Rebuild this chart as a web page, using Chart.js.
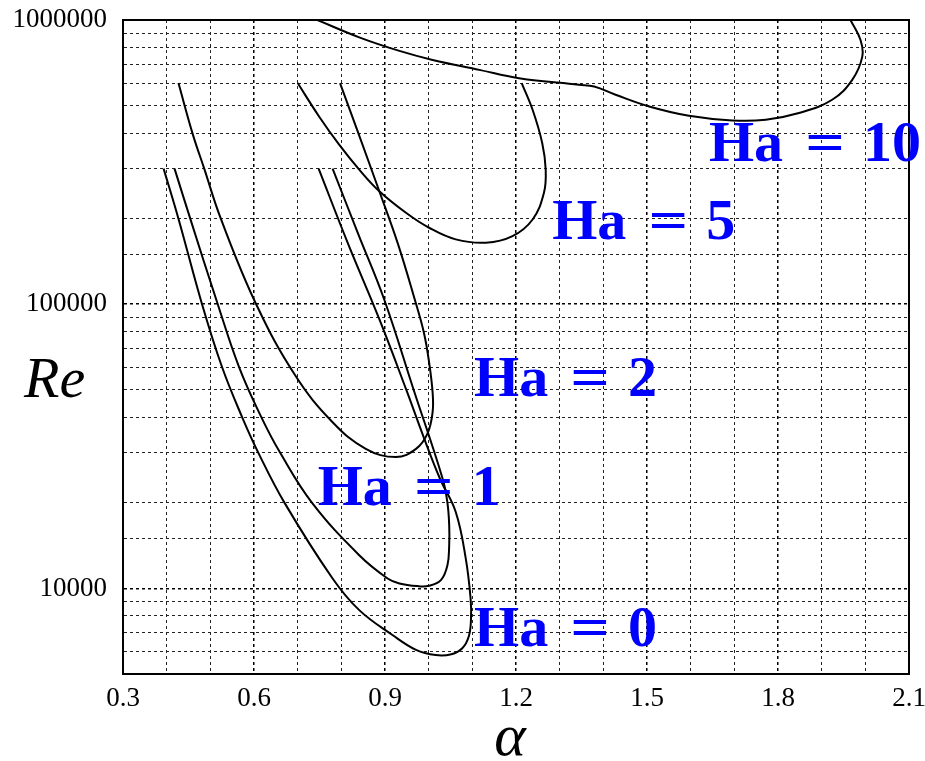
<!DOCTYPE html>
<html>
<head>
<meta charset="utf-8">
<script src="https://cdn.jsdelivr.net/npm/chart.js@4.4.0/dist/chart.umd.min.js"></script>
<style>
  html, body { margin: 0; padding: 0; background: #fff; }
  #wrap { width: 925px; height: 761px; }
</style>
</head>
<body>
<div id="wrap"><canvas id="neutralChart"></canvas></div>
<script>
// ===============================
// NEUTRAL CURVES  (alpha, Re) per Hartmann number
// ===============================
const ha0Alpha = [0.393, 0.427, 0.481, 0.527, 0.573, 0.610, 0.670, 0.780, 0.841, 0.917, 0.971, 1.016, 1.052, 1.077, 1.092, 1.097, 1.096, 1.085, 1.062, 1.026, 0.990, 0.948, 0.887, 0.816, 0.748];
const ha0Re    = [300000, 200000, 100000, 60000, 40000, 30000, 20000, 10840, 8390, 6860, 6080, 5830, 5870, 6160, 6790, 7850, 9230, 12740, 18580, 24320, 33600, 50330, 88590, 162400, 300000];

const ha1Alpha = [0.418, 0.454, 0.517, 0.566, 0.617, 0.660, 0.733, 0.841, 0.906, 0.933, 0.974, 1.001, 1.028, 1.043, 1.047, 1.047, 1.043, 1.032, 0.965, 0.898, 0.839, 0.780];
const ha1Re    = [300000, 200000, 100000, 60000, 40000, 30000, 20000, 13090, 10840, 10410, 10190, 10220, 10690, 12070, 14190, 16680, 20000, 24320, 50330, 104100, 176100, 300000];

const ha2Alpha = [0.427, 0.459, 0.486, 0.524, 0.605, 0.695, 0.780, 0.856, 0.925, 0.971, 0.997, 1.009, 1.009, 1.001, 0.989, 0.968, 0.930, 0.887, 0.841, 0.797];
const ha2Re    = [600000, 400000, 300000, 200000, 100000, 56000, 38450, 30990, 28990, 30990, 34990, 41690, 49000, 62430, 79560, 104100, 162400, 249700, 391700, 600000];

const ha5Alpha = [0.700, 0.749, 0.795, 0.841, 0.887, 0.948, 1.001, 1.062, 1.131, 1.192, 1.238, 1.264, 1.268, 1.260, 1.238, 1.213];
const ha5Re    = [600000, 457800, 364300, 297700, 249700, 209800, 185800, 169100, 164600, 173600, 198700, 246500, 297700, 369400, 483300, 600000];

const ha10Alpha = [0.745, 0.841, 0.933, 1.009, 1.116, 1.207, 1.344, 1.379, 1.428, 1.505, 1.596, 1.695, 1.772, 1.848, 1.924, 1.970, 1.993, 1.989, 1.966];
const ha10Re    = [1000000, 869000, 778500, 723700, 667700, 624300, 591500, 583400, 545700, 496400, 460400, 443300, 445800, 470500, 524000, 615900, 743200, 850800, 1000000];

const xTickLabels = ['0.3', '0.6', '0.9', '1.2', '1.5', '1.8', '2.1'];
const yTickLabels = ['10000', '100000', '1000000'];

// curve tags : text + anchor (alpha, Re) of the left end of "Ha"
const haLabelText  = ['0', '1', '2', '5', '10'];
const haLabelAlpha = [1.104, 0.746, 1.104, 1.283, 1.642];
const haLabelRe    = [6258, 19710, 47560, 169100, 320100];

function toPoints(xs, ys) {
  return xs.map((x, i) => ({ x: x, y: ys[i] }));
}

const curves = [
  toPoints(ha0Alpha, ha0Re),
  toPoints(ha1Alpha, ha1Re),
  toPoints(ha2Alpha, ha2Re),
  toPoints(ha5Alpha, ha5Re),
  toPoints(ha10Alpha, ha10Re)
];

const serif = '"Liberation Serif", "Times New Roman", serif';

function isDecade(v) {
  const l = Math.log10(v);
  return Math.abs(l - Math.round(l)) < 1e-6;
}
function isMajorAlpha(v) {
  return Math.round(v * 10) % 3 === 0;
}
// keep the plot box fixed, no room reserved for overhanging tick labels
function noPadding(s) {
  s.paddingTop = 0;
  s.paddingBottom = 0;
  s.paddingLeft = 0;
  s.paddingRight = 0;
}

// frame + text overlays
const overlay = {
  id: 'overlay',
  afterDraw(chart) {
    const { ctx, chartArea: a, scales } = chart;
    ctx.save();
    ctx.strokeStyle = '#000';
    ctx.lineWidth = 2;
    ctx.strokeRect(a.left, a.top, a.right - a.left, a.bottom - a.top);

    ctx.fillStyle = '#0000ff';
    ctx.font = 'bold 58px ' + serif;
    ctx.textBaseline = 'alphabetic';
    haLabelText.forEach((t, i) => {
      const px = scales.x.getPixelForValue(haLabelAlpha[i]);
      const py = scales.y.getPixelForValue(haLabelRe[i]);
      ctx.textAlign = 'left';
      ctx.fillText('Ha', px, py);
      // wider equals sign
      ctx.save();
      ctx.translate(px + 116, py);
      ctx.scale(1.2, 1);
      ctx.textAlign = 'center';
      ctx.fillText('=', 0, 0);
      ctx.restore();
      ctx.textAlign = 'left';
      ctx.fillText(t, px + 154, py);
    });

    ctx.fillStyle = '#000';
    ctx.font = 'italic 58px ' + serif;
    ctx.textAlign = 'left';
    ctx.fillText('Re', 24, 397);
    ctx.textAlign = 'center';
    ctx.font = 'italic 60px ' + serif;
    ctx.fillText('\u03b1', 510, 755);
    ctx.restore();
  }
};

new Chart(document.getElementById('neutralChart'), {
  type: 'scatter',
  data: {
    datasets: curves.map(pts => ({
      data: pts,
      showLine: true,
      borderColor: '#000',
      borderWidth: 2,
      pointRadius: 0,
      tension: 0.4,
      fill: false
    }))
  },
  options: {
    responsive: true,
    maintainAspectRatio: false,
    animation: false,
    layout: { padding: { top: 20, right: 16, left: 0, bottom: 0 } },
    plugins: {
      legend: { display: false },
      tooltip: { enabled: false }
    },
    scales: {
      x: {
        type: 'linear',
        min: 0.3,
        max: 2.1,
        afterFit: s => { s.height = 87; noPadding(s); },
        ticks: {
          stepSize: 0.1,
          maxTicksLimit: 40,
          autoSkip: false,
          maxRotation: 0,
          padding: 9,
          color: '#000',
          font: { family: serif, size: 27 },
          callback: v => {
            const s = Number(v).toFixed(1);
            return xTickLabels.includes(s) ? s : '';
          }
        },
        grid: {
          drawTicks: false,
          color: c => (c.tick && isMajorAlpha(c.tick.value)) ? '#000' : '#222',
          lineWidth: c => (c.tick && isMajorAlpha(c.tick.value)) ? 1.5 : 1
        },
        border: { display: true, color: '#000', width: 2, dash: [3, 3] }
      },
      y: {
        type: 'logarithmic',
        min: 5000,
        max: 1000000,
        afterFit: s => { s.width = 123; noPadding(s); },
        ticks: {
          autoSkip: false,
          padding: 16,
          color: '#000',
          font: { family: serif, size: 27 },
          callback: v => yTickLabels.includes(String(v)) ? String(v) : ''
        },
        grid: {
          drawTicks: false,
          color: c => (c.tick && isDecade(c.tick.value)) ? '#000' : '#222',
          lineWidth: c => (c.tick && isDecade(c.tick.value)) ? 1.5 : 1
        },
        border: { display: true, color: '#000', width: 2, dash: [3, 3] }
      }
    }
  },
  plugins: [overlay]
});
</script>
</body>
</html>
